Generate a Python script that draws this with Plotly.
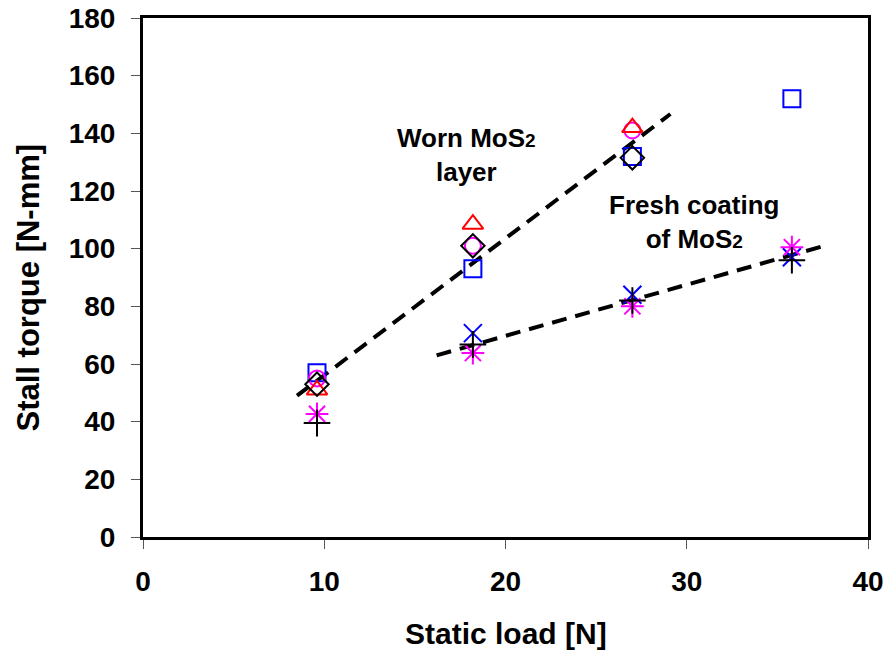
import plotly.graph_objects as go

loads = [9.6, 18.2, 27.0, 35.8]

# Worn MoS2 layer series
worn_square = [57, 93, 132, 152]
worn_circle = [55, 101, 141, None]
worn_triangle = [51, 108.5, 142, None]
worn_diamond = [53, 101, 131.5, None]

# Fresh coating series
fresh_x = [None, 70.7, 84, 97]
fresh_asterisk = [42.7, 63.8, 80, 100.5]
fresh_plus = [39.5, 66.8, 82, 96]

# Trend lines
worn_fit_x = [8.5, 29.1]
worn_fit_y = [49, 146.7]
fresh_fit_x = [16.2, 37.6]
fresh_fit_y = [63, 101]

x_title = "Static load [N]"
y_title = "Stall torque [N-mm]"

fig = go.Figure()

def add_line(xs, ys):
    fig.add_trace(go.Scatter(x=xs, y=ys, mode="lines",
                             line=dict(color="black", width=4, dash="15px,9px"),
                             showlegend=False, hoverinfo="skip"))

add_line(worn_fit_x, worn_fit_y)
add_line(fresh_fit_x, fresh_fit_y)

def add_markers(ys, symbol, color, size=17):
    fig.add_trace(go.Scatter(x=loads, y=ys, mode="markers",
                             marker=dict(symbol=symbol, size=size, color=color,
                                         line=dict(color=color, width=2)),
                             showlegend=False))

add_markers(worn_square, "square-open", "#0000ff", 17)
add_markers(worn_circle, "circle-open", "#ff00ff", 16)
add_markers(worn_triangle, "triangle-up-open", "#ff0000", 18)
add_markers(worn_diamond, "diamond-open", "#000000", 18)
add_markers(fresh_x, "x-thin-open", "#0000ff", 18)
add_markers(fresh_asterisk, "asterisk-open", "#ff00ff", 19)
add_markers(fresh_plus, "cross-thin-open", "#000000", 19)

font_family = "Liberation Sans, Arial, sans-serif"
bold = dict(family=font_family, color="black", weight="bold")

fig.add_annotation(x=17.85, y=132.5, xref="x", yref="y",
                   text="Worn MoS<span style='font-size:19px'>2</span><br>layer",
                   showarrow=False, font=dict(size=26, **bold), align="center")
fig.add_annotation(x=30.4, y=109.3, xref="x", yref="y",
                   text="Fresh coating<br>of MoS<span style='font-size:19px'>2</span>",
                   showarrow=False, font=dict(size=26, **bold), align="center")

# Axis titles placed as annotations for precise positioning
fig.add_annotation(x=0.5, y=0, xref="paper", yref="paper", yshift=-96,
                   text=x_title, showarrow=False, font=dict(size=30, **bold),
                   xanchor="center", yanchor="middle")
fig.add_annotation(x=0, y=0.5, xref="paper", yref="paper", xshift=-115, yshift=-10,
                   text=y_title, showarrow=False, font=dict(size=31, **bold),
                   textangle=-90, xanchor="center", yanchor="middle")

axis_common = dict(showline=True, linecolor="black", linewidth=3, mirror=True,
                   ticks="outside", tickcolor="#555", tickwidth=1, ticklen=9,
                   showgrid=False, zeroline=False, automargin=False,
                   tickfont=dict(size=28, **bold))

fig.update_xaxes(range=[0, 40], tickvals=[0, 10, 20, 30, 40],
                 ticklabelstandoff=8, **axis_common)
fig.update_yaxes(range=[0, 180], tickvals=list(range(0, 181, 20)),
                 ticklabelstandoff=10, **axis_common)

fig.update_layout(width=887, height=652, plot_bgcolor="white", paper_bgcolor="white",
                  margin=dict(l=143, r=19, t=18, b=115), showlegend=False,
                  font=dict(family=font_family))

fig.write_html("out.html")
